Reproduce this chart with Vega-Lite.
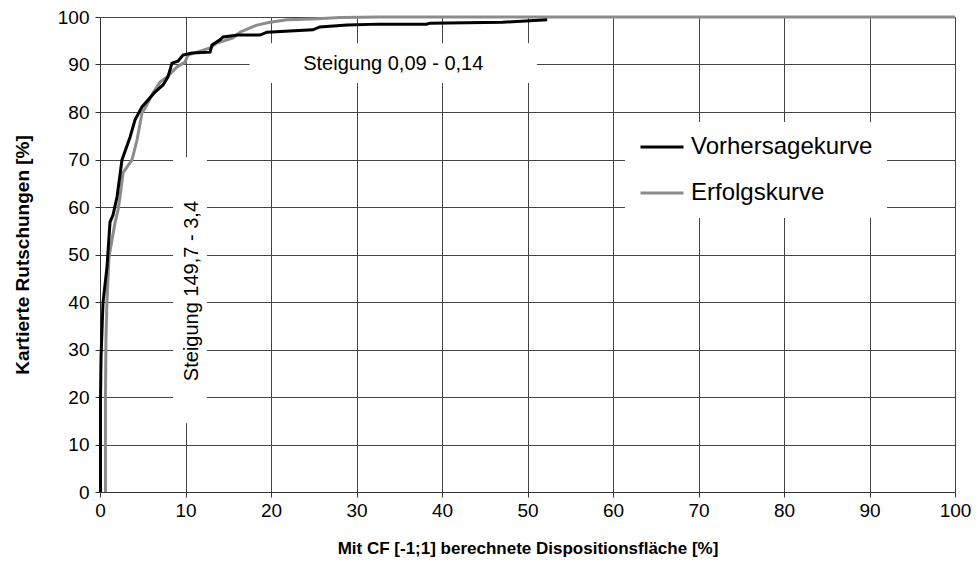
{
  "$schema": "https://vega.github.io/schema/vega-lite/v6.json",
  "width": 855,
  "height": 475,
  "autosize": {"type": "none"},
  "padding": {"left": 100, "top": 17, "right": 21, "bottom": 92},
  "background": "white",
  "config": {"view": {"stroke": null}, "font": "Liberation Sans"},
  "datasets": {
    "curves": [
      {"serie": "Erfolgskurve", "x": 0.64, "y": 0},
      {"serie": "Erfolgskurve", "x": 0.64, "y": 20.0},
      {"serie": "Erfolgskurve", "x": 0.70, "y": 32.6},
      {"serie": "Erfolgskurve", "x": 0.82, "y": 40.4},
      {"serie": "Erfolgskurve", "x": 1.05, "y": 49.5},
      {"serie": "Erfolgskurve", "x": 1.75, "y": 56.6},
      {"serie": "Erfolgskurve", "x": 2.11, "y": 59.4},
      {"serie": "Erfolgskurve", "x": 2.34, "y": 62.1},
      {"serie": "Erfolgskurve", "x": 2.69, "y": 67.2},
      {"serie": "Erfolgskurve", "x": 3.74, "y": 69.9},
      {"serie": "Erfolgskurve", "x": 4.33, "y": 74.1},
      {"serie": "Erfolgskurve", "x": 4.91, "y": 79.8},
      {"serie": "Erfolgskurve", "x": 5.26, "y": 80.8},
      {"serie": "Erfolgskurve", "x": 6.2, "y": 84.0},
      {"serie": "Erfolgskurve", "x": 7.02, "y": 86.3},
      {"serie": "Erfolgskurve", "x": 7.84, "y": 87.4},
      {"serie": "Erfolgskurve", "x": 9.0, "y": 89.5},
      {"serie": "Erfolgskurve", "x": 9.94, "y": 90.5},
      {"serie": "Erfolgskurve", "x": 10.29, "y": 92.0},
      {"serie": "Erfolgskurve", "x": 11.35, "y": 92.6},
      {"serie": "Erfolgskurve", "x": 12.87, "y": 93.5},
      {"serie": "Erfolgskurve", "x": 13.68, "y": 94.5},
      {"serie": "Erfolgskurve", "x": 15.56, "y": 95.6},
      {"serie": "Erfolgskurve", "x": 16.37, "y": 96.8},
      {"serie": "Erfolgskurve", "x": 18.36, "y": 98.3},
      {"serie": "Erfolgskurve", "x": 19.88, "y": 98.9},
      {"serie": "Erfolgskurve", "x": 21.87, "y": 99.4},
      {"serie": "Erfolgskurve", "x": 24.9, "y": 99.6},
      {"serie": "Erfolgskurve", "x": 28.07, "y": 99.9},
      {"serie": "Erfolgskurve", "x": 32.75, "y": 100},
      {"serie": "Erfolgskurve", "x": 100, "y": 100},
      {"serie": "Vorhersagekurve", "x": 0.06, "y": 0},
      {"serie": "Vorhersagekurve", "x": 0.06, "y": 19.4},
      {"serie": "Vorhersagekurve", "x": 0.12, "y": 28.4},
      {"serie": "Vorhersagekurve", "x": 0.35, "y": 39.8},
      {"serie": "Vorhersagekurve", "x": 0.82, "y": 47.4},
      {"serie": "Vorhersagekurve", "x": 1.17, "y": 56.8},
      {"serie": "Vorhersagekurve", "x": 1.52, "y": 58.3},
      {"serie": "Vorhersagekurve", "x": 1.99, "y": 62.1},
      {"serie": "Vorhersagekurve", "x": 2.57, "y": 69.9},
      {"serie": "Vorhersagekurve", "x": 3.51, "y": 74.7},
      {"serie": "Vorhersagekurve", "x": 4.09, "y": 78.3},
      {"serie": "Vorhersagekurve", "x": 4.91, "y": 81.1},
      {"serie": "Vorhersagekurve", "x": 5.61, "y": 82.5},
      {"serie": "Vorhersagekurve", "x": 6.43, "y": 84.2},
      {"serie": "Vorhersagekurve", "x": 7.37, "y": 85.7},
      {"serie": "Vorhersagekurve", "x": 7.95, "y": 87.4},
      {"serie": "Vorhersagekurve", "x": 8.42, "y": 90.3},
      {"serie": "Vorhersagekurve", "x": 9.12, "y": 90.7},
      {"serie": "Vorhersagekurve", "x": 9.71, "y": 92.0},
      {"serie": "Vorhersagekurve", "x": 10.76, "y": 92.4},
      {"serie": "Vorhersagekurve", "x": 12.87, "y": 92.6},
      {"serie": "Vorhersagekurve", "x": 13.1, "y": 94.1},
      {"serie": "Vorhersagekurve", "x": 14.04, "y": 95.2},
      {"serie": "Vorhersagekurve", "x": 14.39, "y": 95.8},
      {"serie": "Vorhersagekurve", "x": 16.14, "y": 96.2},
      {"serie": "Vorhersagekurve", "x": 18.71, "y": 96.2},
      {"serie": "Vorhersagekurve", "x": 19.53, "y": 96.8},
      {"serie": "Vorhersagekurve", "x": 24.9, "y": 97.3},
      {"serie": "Vorhersagekurve", "x": 25.7, "y": 97.9},
      {"serie": "Vorhersagekurve", "x": 28.9, "y": 98.3},
      {"serie": "Vorhersagekurve", "x": 32.7, "y": 98.5},
      {"serie": "Vorhersagekurve", "x": 38.2, "y": 98.5},
      {"serie": "Vorhersagekurve", "x": 38.6, "y": 98.7},
      {"serie": "Vorhersagekurve", "x": 47.1, "y": 98.9},
      {"serie": "Vorhersagekurve", "x": 52.3, "y": 99.4}
    ],
    "boxes": [
      {"x1": 17.5, "x2": 51.1, "y1": 86.1, "y2": 94.5},
      {"x1": 8.54, "x2": 12.51, "y1": 14.5, "y2": 70.5},
      {"x1": 61.4, "x2": 92.05, "y1": 57.7, "y2": 77.9}
    ],
    "notes_h": [{"x": 34.3, "y": 90.1, "label": "Steigung 0,09 - 0,14"}],
    "notes_v": [{"x": 10.76, "y": 42.3, "label": "Steigung 149,7 - 3,4"}]
  },
  "layer": [
    {
      "data": {"name": "boxes"},
      "mark": {"type": "rect", "fill": "white", "stroke": null},
      "encoding": {
        "x": {"field": "x1", "type": "quantitative", "scale": {"domain": [0, 100], "nice": false}},
        "x2": {"field": "x2"},
        "y": {"field": "y1", "type": "quantitative", "scale": {"domain": [0, 100], "nice": false}},
        "y2": {"field": "y2"}
      }
    },
    {
      "data": {"name": "curves"},
      "mark": {"type": "line", "strokeWidth": 3, "interpolate": "linear"},
      "encoding": {
        "x": {
          "field": "x", "type": "quantitative",
          "scale": {"domain": [0, 100], "nice": false},
          "axis": {
            "title": "Mit CF [-1;1] berechnete Dispositionsfläche [%]",
            "values": [0, 10, 20, 30, 40, 50, 60, 70, 80, 90, 100],
            "grid": true, "gridColor": "#444444", "gridWidth": 1, "gridOpacity": 1,
            "domainColor": "#333333", "domainWidth": 1,
            "tickColor": "#333333", "tickSize": 5,
            "labelFont": "Liberation Sans", "labelFontSize": 19, "labelColor": "black", "labelPadding": 4,
            "labelFlush": false, "labelOverlap": false,
            "titleFont": "Liberation Sans", "titleFontSize": 17, "titleFontWeight": "bold", "titleColor": "black",
            "titlePadding": 20
          }
        },
        "y": {
          "field": "y", "type": "quantitative",
          "scale": {"domain": [0, 100], "nice": false},
          "axis": {
            "title": "Kartierte Rutschungen [%]",
            "values": [0, 10, 20, 30, 40, 50, 60, 70, 80, 90, 100],
            "grid": true, "gridColor": "#444444", "gridWidth": 1, "gridOpacity": 1,
            "domainColor": "#333333", "domainWidth": 1,
            "tickColor": "#333333", "tickSize": 5,
            "labelFont": "Liberation Sans", "labelFontSize": 19, "labelColor": "black", "labelPadding": 6,
            "labelFlush": false, "labelOverlap": false,
            "titleFont": "Liberation Sans", "titleFontSize": 19, "titleFontWeight": "bold", "titleColor": "black",
            "titlePadding": 25
          }
        },
        "color": {
          "field": "serie", "type": "nominal",
          "scale": {"domain": ["Vorhersagekurve", "Erfolgskurve"], "range": ["#000000", "#8c8c8c"]},
          "legend": {
            "orient": "none", "legendX": 539, "legendY": 107, "title": null,
            "symbolType": "stroke", "symbolSize": 1849, "symbolStrokeWidth": 3,
            "labelFont": "Liberation Sans", "labelFontSize": 24, "labelColor": "black", "labelOffset": 6,
            "rowPadding": 11, "padding": 0, "labelLimit": 400
          }
        },
        "order": {"value": 0}
      }
    },
    {
      "data": {"name": "notes_h"},
      "mark": {"type": "text", "font": "Liberation Sans", "fontSize": 20, "color": "black", "align": "center", "baseline": "middle"},
      "encoding": {
        "x": {"field": "x", "type": "quantitative"},
        "y": {"field": "y", "type": "quantitative"},
        "text": {"field": "label"}
      }
    },
    {
      "data": {"name": "notes_v"},
      "mark": {"type": "text", "font": "Liberation Sans", "fontSize": 20, "color": "black", "align": "center", "baseline": "middle", "angle": 270},
      "encoding": {
        "x": {"field": "x", "type": "quantitative"},
        "y": {"field": "y", "type": "quantitative"},
        "text": {"field": "label"}
      }
    }
  ]
}
